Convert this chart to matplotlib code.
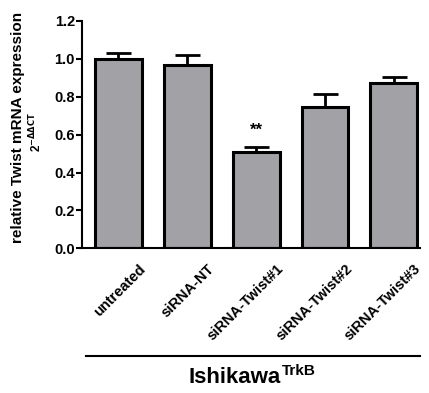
import numpy as np
import matplotlib.pyplot as plt
from matplotlib.transforms import ScaledTranslation

plt.rcParams['font.family'] = ['Liberation Sans', 'DejaVu Sans']
plt.rcParams['font.weight'] = 'bold'

# ── Data ──
groups = ['untreated', 'siRNA-NT', 'siRNA-Twist#1', 'siRNA-Twist#2', 'siRNA-Twist#3']
means = [1.00, 0.965, 0.51, 0.745, 0.87]
sems = [0.028, 0.055, 0.025, 0.07, 0.033]
yticks = [0.0, 0.2, 0.4, 0.6, 0.8, 1.0, 1.2]

x = np.arange(len(groups))

fig = plt.figure(figsize=(4.29, 3.93), dpi=100)
ax = fig.add_axes([0.191, 0.368, 0.788, 0.579])

ax.bar(x, means, width=0.68, color='#a2a2a6', edgecolor='black',
       linewidth=2.2, zorder=2)
ax.errorbar(x, means, yerr=[np.zeros(len(sems)), sems], fmt='none',
            ecolor='black', elinewidth=2.0, capsize=9, capthick=2.0, zorder=1)

# significance marker
ax.text(x[2], means[2] + sems[2] + 0.05, '**', ha='center', va='bottom',
        fontsize=12, fontweight='bold')

ax.set_xlim(-0.53, 4.38)
ax.set_ylim(0, 1.2)
ax.set_yticks(yticks)
ax.set_yticklabels([f'{t:.1f}' for t in yticks], fontsize=10.5, fontweight='bold')
ax.set_xticks(x)
ax.set_xticklabels(groups, rotation=45, ha='right', rotation_mode='anchor',
                   fontsize=10.5, fontweight='bold')
ax.tick_params(axis='x', length=0, pad=6)
# shift the slanted labels so they end just right of each bar centre
shift = ScaledTranslation(0.20, -0.05, fig.dpi_scale_trans)
for lbl in ax.get_xticklabels():
    lbl.set_transform(lbl.get_transform() + shift)
ax.set_xticks([2], minor=True)
ax.tick_params(axis='x', which='minor', length=4, width=1.5)
ax.tick_params(axis='y', length=4, width=1.5, pad=1)

for side in ['top', 'right']:
    ax.spines[side].set_visible(False)
for side in ['left', 'bottom']:
    ax.spines[side].set_linewidth(1.5)

# y-axis label with 2^-ΔΔCT sub-line
fig.text(0.043, 0.675, 'relative Twist mRNA expression', rotation=90,
         ha='center', va='center', fontsize=11, fontweight='bold')
fig.text(0.083, 0.665, r'2$^{\mathbf{-\Delta\Delta CT}}$', rotation=90,
         ha='center', va='center', fontsize=8.5, fontweight='bold')

# group bracket line and cell-line label
ax.plot([-0.47, 4.38], [-0.473, -0.473], color='black', lw=1.5,
        transform=ax.get_xaxis_transform(), clip_on=False)
fig.text(0.655, 0.04, 'Ishikawa', ha='right', va='center',
         fontsize=16, fontweight='bold')
fig.text(0.658, 0.057, 'TrkB', ha='left', va='center',
         fontsize=11, fontweight='bold')

fig.savefig('out.png', dpi=100, facecolor='white')
